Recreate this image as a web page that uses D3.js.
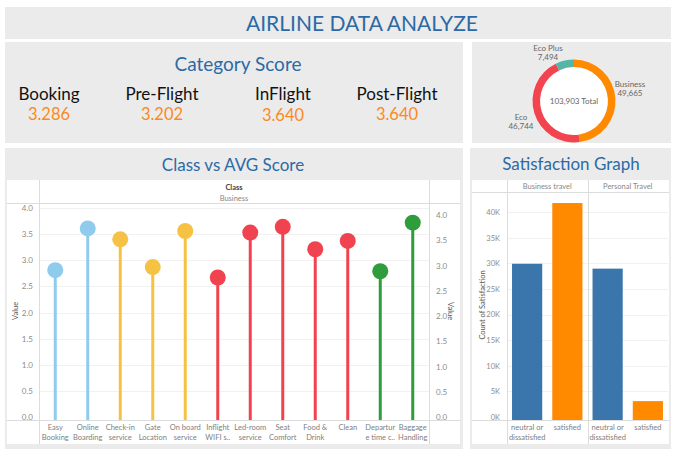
<!DOCTYPE html>
<html>
<head>
<meta charset="utf-8">
<script src="https://cdn.jsdelivr.net/npm/d3@7"></script>
<style>
  html, body { margin: 0; padding: 0; background: #ffffff; }
  svg { display: block; font-family: Lato, "Noto Sans", sans-serif; }
</style>
</head>
<body>
<svg id="chart" width="680" height="456"></svg>
<script>
// ---------------- DATA ----------------
const dashboardTitle = "AIRLINE DATA ANALYZE";

const scoreCategories = ["Booking", "Pre-Flight", "InFlight", "Post-Flight"];
const scoreValues = ["3.286", "3.202", "3.640", "3.640"];

const classNames = ["Business", "Eco", "Eco Plus"];
const classCounts = [49665, 46744, 7494];
const classTotal = 103903;

const serviceLabels = [
  ["Easy", "Booking"], ["Online", "Boarding"], ["Check-in", "service"],
  ["Gate", "Location"], ["On board", "service"], ["Inflight", "WIFI s.."],
  ["Led-room", "service"], ["Seat", "Comfort"], ["Food &", "Drink"],
  ["Clean"], ["Departur", "e time c.."], ["Baggage", "Handling"]
];
const serviceValues = [2.81, 3.61, 3.40, 2.87, 3.56, 2.67, 3.53, 3.64, 3.21, 3.37, 2.79, 3.72];
const serviceGroups = ["Booking", "Booking", "Pre-Flight", "Pre-Flight", "Pre-Flight",
  "InFlight", "InFlight", "InFlight", "InFlight", "InFlight", "Post-Flight", "Post-Flight"];
const valueTicks = [0, 0.5, 1, 1.5, 2, 2.5, 3, 3.5, 4];

const travelTypes = ["Business travel", "Personal Travel"];
const satisfactionLevels = ["neutral or dissatisfied", "satisfied"];
const satisfactionLabels = [["neutral or", "dissatisfied"], ["satisfied"]];
const businessCounts = [29900, 41750];
const personalCounts = [28950, 3100];
const countTicks = [0, 5000, 10000, 15000, 20000, 25000, 30000, 35000, 40000];

// ---------------- STYLE ----------------
const panelFill = "#ebebeb";
const titleBlue = "#2c6aa5";
const orange = "#fa8a1c";
const groupColor = d3.scaleOrdinal()
  .domain(["Booking", "Pre-Flight", "InFlight", "Post-Flight"])
  .range(["#8ecbec", "#f6c244", "#f0434f", "#2f9d3b"]);
const classColor = d3.scaleOrdinal().domain(classNames).range(["#ff8a00", "#f2434f", "#55b5a6"]);
const satColor = d3.scaleOrdinal().domain(satisfactionLevels).range(["#3a75ab", "#ff8a00"]);
const axisText = "#8c8c8c";
const lineCol = "#dcdcdc";
const gridCol = "#f1f1f1";

const svg = d3.select("#chart");

function panel(x, y, w, h) {
  svg.append("rect").attr("x", x).attr("y", y).attr("width", w).attr("height", h).attr("fill", panelFill);
}
function line(x1, y1, x2, y2, c) {
  svg.append("line").attr("x1", x1).attr("y1", y1).attr("x2", x2).attr("y2", y2)
    .attr("stroke", c || lineCol).attr("stroke-width", 1).attr("shape-rendering", "crispEdges");
}

// ---------------- TITLE ----------------
panel(5, 7, 666, 32);
svg.append("text").attr("x", 362).attr("y", 31).attr("text-anchor", "middle")
  .attr("font-size", 21).attr("fill", titleBlue).text(dashboardTitle);

// ---------------- CATEGORY SCORE ----------------
panel(5, 42, 458, 101);
svg.append("text").attr("x", 238).attr("y", 71).attr("text-anchor", "middle")
  .attr("font-size", 19).attr("fill", titleBlue).text("Category Score");
const scoreLabelX = [49, 162, 283, 397];
scoreCategories.forEach((c, i) => {
  svg.append("text").attr("x", scoreLabelX[i]).attr("y", 100).attr("text-anchor", "middle")
    .attr("font-size", 17).attr("fill", "#111").text(c);
  svg.append("text").attr("x", scoreLabelX[i]).attr("y", i === 2 ? 121 : 120).attr("text-anchor", "middle")
    .attr("font-size", 16.5).attr("fill", orange).text(scoreValues[i]);
});

// ---------------- DONUT ----------------
panel(472, 42, 199, 101);
const cx = 574, cy = 101;
svg.append("circle").attr("cx", cx).attr("cy", cy).attr("r", 34).attr("fill", "#fff");
const pie = d3.pie().sort(null).value(d => d)(classCounts);
const arc = d3.arc().innerRadius(34).outerRadius(41.5);
svg.append("g").attr("transform", `translate(${cx},${cy})`)
  .selectAll("path").data(pie).join("path")
  .attr("d", arc).attr("fill", (d, i) => classColor(classNames[i]));
svg.append("text").attr("x", cx).attr("y", cy + 3).attr("text-anchor", "middle")
  .attr("font-size", 8).attr("fill", "#666").text(d3.format(",")(classTotal) + " Total");
const donutLabelPos = [[630, 87], [521, 120], [548, 51]];
classNames.forEach((n, i) => {
  const [lx, ly] = donutLabelPos[i];
  svg.append("text").attr("x", lx).attr("y", ly).attr("text-anchor", "middle")
    .attr("font-size", 8).attr("fill", "#666").text(n);
  svg.append("text").attr("x", lx).attr("y", ly + 9).attr("text-anchor", "middle")
    .attr("font-size", 8).attr("fill", "#666").text(d3.format(",")(classCounts[i]));
});

// ---------------- CLASS VS AVG SCORE ----------------
panel(5, 148, 458, 301);
svg.append("text").attr("x", 233).attr("y", 171).attr("text-anchor", "middle")
  .attr("font-size", 17).attr("fill", titleBlue).text("Class vs AVG Score");
svg.append("rect").attr("x", 7).attr("y", 180).attr("width", 453).attr("height", 264).attr("fill", "#fff");

const pL = 39, pR = 429, pTop = 203, pBot = 420;
const xs = d3.scaleBand().domain(d3.range(serviceValues.length)).range([pL, pR]);
const yL = d3.scaleLinear().domain([0, 4]).range([417, 208]);
const yR = d3.scaleLinear().domain([0, 4]).range([417, 215]);

svg.append("g").selectAll("line").data(valueTicks.slice(1)).join("line")
  .attr("x1", pL).attr("x2", pR).attr("y1", d => Math.round(yL(d)) + 0.5).attr("y2", d => Math.round(yL(d)) + 0.5)
  .attr("stroke", gridCol);

line(7, pTop + 0.5, 460, pTop + 0.5);
line(7, pBot + 0.5, 460, pBot + 0.5);
line(pL + 0.5, 180, pL + 0.5, 444);
line(pR + 0.5, 180, pR + 0.5, 444);

svg.append("text").attr("x", (pL + pR) / 2).attr("y", 190).attr("text-anchor", "middle")
  .attr("font-size", 7.5).attr("font-weight", "bold").attr("fill", "#444").text("Class");
svg.append("text").attr("x", (pL + pR) / 2).attr("y", 201).attr("text-anchor", "middle")
  .attr("font-size", 7.5).attr("fill", "#888").text(classNames[0]);

const axL = svg.append("g").attr("transform", `translate(${pL - 3},0)`)
  .call(d3.axisLeft(yL).tickValues(valueTicks).tickFormat(d3.format(".1f")).tickSize(0));
axL.select(".domain").remove();
axL.selectAll("text").attr("fill", axisText).attr("font-size", 8).attr("font-family", "Lato, sans-serif");
const axR = svg.append("g").attr("transform", `translate(${pR + 4},0)`)
  .call(d3.axisRight(yR).tickValues(valueTicks).tickFormat(d3.format(".1f")).tickSize(0));
axR.select(".domain").remove();
axR.selectAll("text").attr("fill", axisText).attr("font-size", 8).attr("font-family", "Lato, sans-serif");

svg.append("text").attr("transform", `translate(18,311) rotate(-90)`).attr("text-anchor", "middle")
  .attr("font-size", 7.5).attr("fill", "#555").text("Value");
svg.append("text").attr("transform", `translate(448,311) rotate(90)`).attr("text-anchor", "middle")
  .attr("font-size", 7.5).attr("fill", "#555").text("Value");

const lol = svg.append("g");
lol.selectAll("line").data(serviceValues).join("line")
  .attr("x1", (d, i) => xs(i) + xs.bandwidth() / 2).attr("x2", (d, i) => xs(i) + xs.bandwidth() / 2)
  .attr("y1", pBot).attr("y2", d => yL(d))
  .attr("stroke", (d, i) => groupColor(serviceGroups[i])).attr("stroke-width", 3);
lol.selectAll("circle").data(serviceValues).join("circle")
  .attr("cx", (d, i) => xs(i) + xs.bandwidth() / 2).attr("cy", d => yL(d)).attr("r", 8)
  .attr("fill", (d, i) => groupColor(serviceGroups[i]));

serviceLabels.forEach((lines, i) => {
  const t = svg.append("text").attr("x", xs(i) + xs.bandwidth() / 2).attr("y", 430)
    .attr("text-anchor", "middle").attr("font-size", 7.5).attr("fill", "#808080");
  lines.forEach((s, j) => t.append("tspan").attr("x", xs(i) + xs.bandwidth() / 2).attr("dy", j ? 10 : 0).text(s));
});

// ---------------- SATISFACTION ----------------
panel(470, 148, 201, 301);
svg.append("text").attr("x", 571).attr("y", 170).attr("text-anchor", "middle")
  .attr("font-size", 17).attr("fill", titleBlue).text("Satisfaction Graph");
svg.append("rect").attr("x", 472).attr("y", 180).attr("width", 197).attr("height", 264).attr("fill", "#fff");

const sL = 507, sR = 668, sTop = 192, sBot = 420;
const paneX = d3.scaleBand().domain(travelTypes).range([sL, sR]);
const barX = d3.scaleBand().domain(satisfactionLevels).range([0, paneX.bandwidth()]).paddingInner(0.25).paddingOuter(0.125);
const yS = d3.scaleLinear().domain([0, 40000]).range([417, 212]);

svg.append("g").selectAll("line").data(countTicks.slice(1)).join("line")
  .attr("x1", sL).attr("x2", sR).attr("y1", d => Math.round(yS(d)) + 0.5).attr("y2", d => Math.round(yS(d)) + 0.5)
  .attr("stroke", gridCol);

line(472, sTop + 0.5, 669, sTop + 0.5);
line(472, sBot + 0.5, 669, sBot + 0.5);
line(sL + 0.5, 180, sL + 0.5, 444);
line(paneX(travelTypes[1]) + 0.5, 180, paneX(travelTypes[1]) + 0.5, 444);

travelTypes.forEach(t => {
  svg.append("text").attr("x", paneX(t) + paneX.bandwidth() / 2).attr("y", 189).attr("text-anchor", "middle")
    .attr("font-size", 7.5).attr("fill", "#888").text(t);
});

const axS = svg.append("g").attr("transform", `translate(${sL - 4},0)`)
  .call(d3.axisLeft(yS).tickValues(countTicks).tickFormat(d => (d / 1000) + "K").tickSize(0));
axS.select(".domain").remove();
axS.selectAll("text").attr("fill", axisText).attr("font-size", 7.5).attr("font-family", "Lato, sans-serif");
svg.append("text").attr("transform", `translate(485,305) rotate(-90)`).attr("text-anchor", "middle")
  .attr("font-size", 7.5).attr("fill", "#555").text("Count of Satisfaction");

const satData = [businessCounts, personalCounts];
travelTypes.forEach((t, ti) => {
  satisfactionLevels.forEach((s, si) => {
    svg.append("rect")
      .attr("x", paneX(t) + barX(s)).attr("width", barX.bandwidth())
      .attr("y", yS(satData[ti][si])).attr("height", sBot - yS(satData[ti][si]))
      .attr("fill", satColor(s));
    const tx = paneX(t) + barX(s) + barX.bandwidth() / 2;
    const txt = svg.append("text").attr("x", tx).attr("y", 430).attr("text-anchor", "middle")
      .attr("font-size", 7.5).attr("fill", "#808080");
    satisfactionLabels[si].forEach((ln, j) => txt.append("tspan").attr("x", tx).attr("dy", j ? 10 : 0).text(ln));
  });
});
</script>
</body>
</html>
